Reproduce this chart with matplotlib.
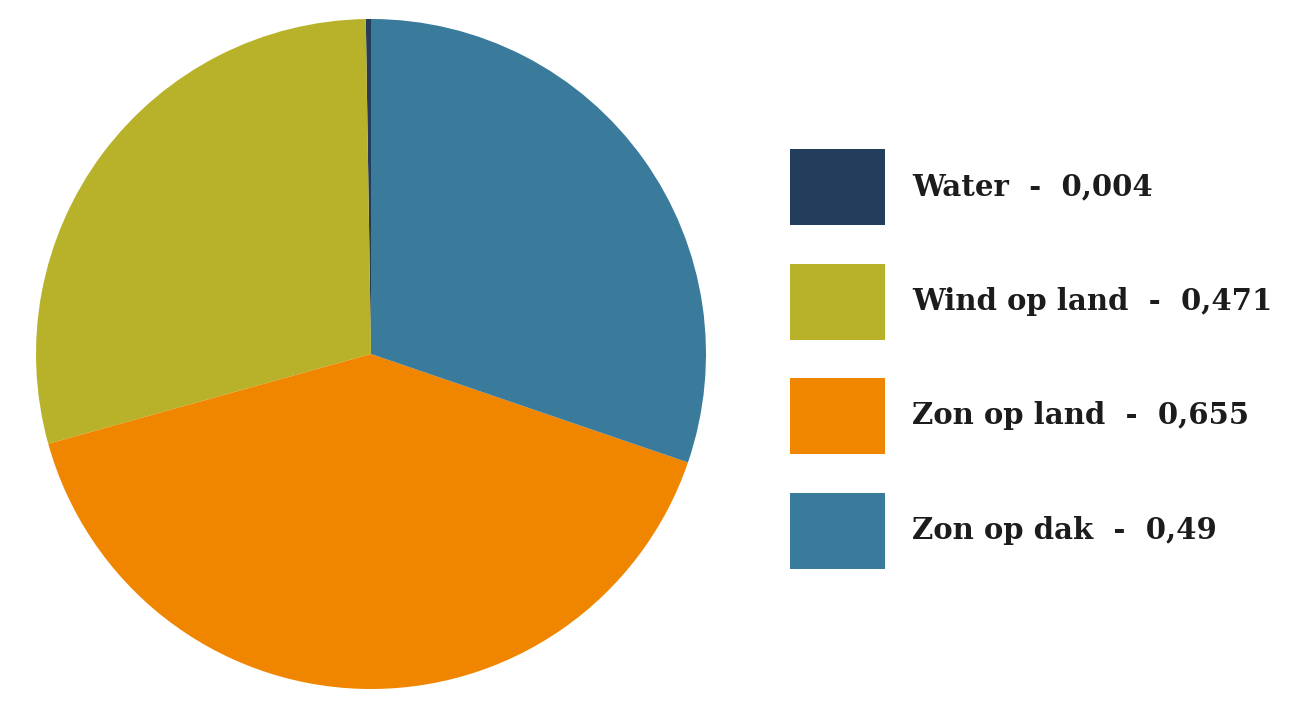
import matplotlib.pyplot as plt
from matplotlib.patches import Rectangle

# Data
labels = ['Water', 'Wind op land', 'Zon op land', 'Zon op dak']
values = [0.004, 0.471, 0.655, 0.49]
colors = ['#243d5c', '#b8b22a', '#f08500', '#3a7b9b']

W, H = 1308, 709
fig = plt.figure(figsize=(W / 100, H / 100), dpi=100)
fig.patch.set_facecolor('white')

# Pie: centre (371, 354) px, radius 335 px
cx, cy, r = 371, 354, 335
ax = fig.add_axes([(cx - r) / W, (H - cy - r) / H, 2 * r / W, 2 * r / H])
ax.pie(values, colors=colors, startangle=90, counterclock=True,
       wedgeprops=dict(linewidth=0))
ax.set_xlim(-1, 1)
ax.set_ylim(-1, 1)
ax.set_aspect('equal')

# Legend drawn in a pixel-coordinate axes
lax = fig.add_axes([0, 0, 1, 1])
lax.set_xlim(0, W)
lax.set_ylim(H, 0)
lax.axis('off')

top, step, bw, bh = 149, 114.5, 95, 76
for i, (lab, val, col) in enumerate(zip(labels, values, colors)):
    y = top + i * step
    lax.add_patch(Rectangle((790, y), bw, bh, facecolor=col, edgecolor='none'))
    txt = f"{lab}  -  {str(val).replace('.', ',')}"
    lax.text(912, y + bh / 2, txt, ha='left', va='center', fontsize=21,
             family='DejaVu Serif', fontweight='bold', color='#1c1c1c')

fig.savefig('out.png', dpi=100)
